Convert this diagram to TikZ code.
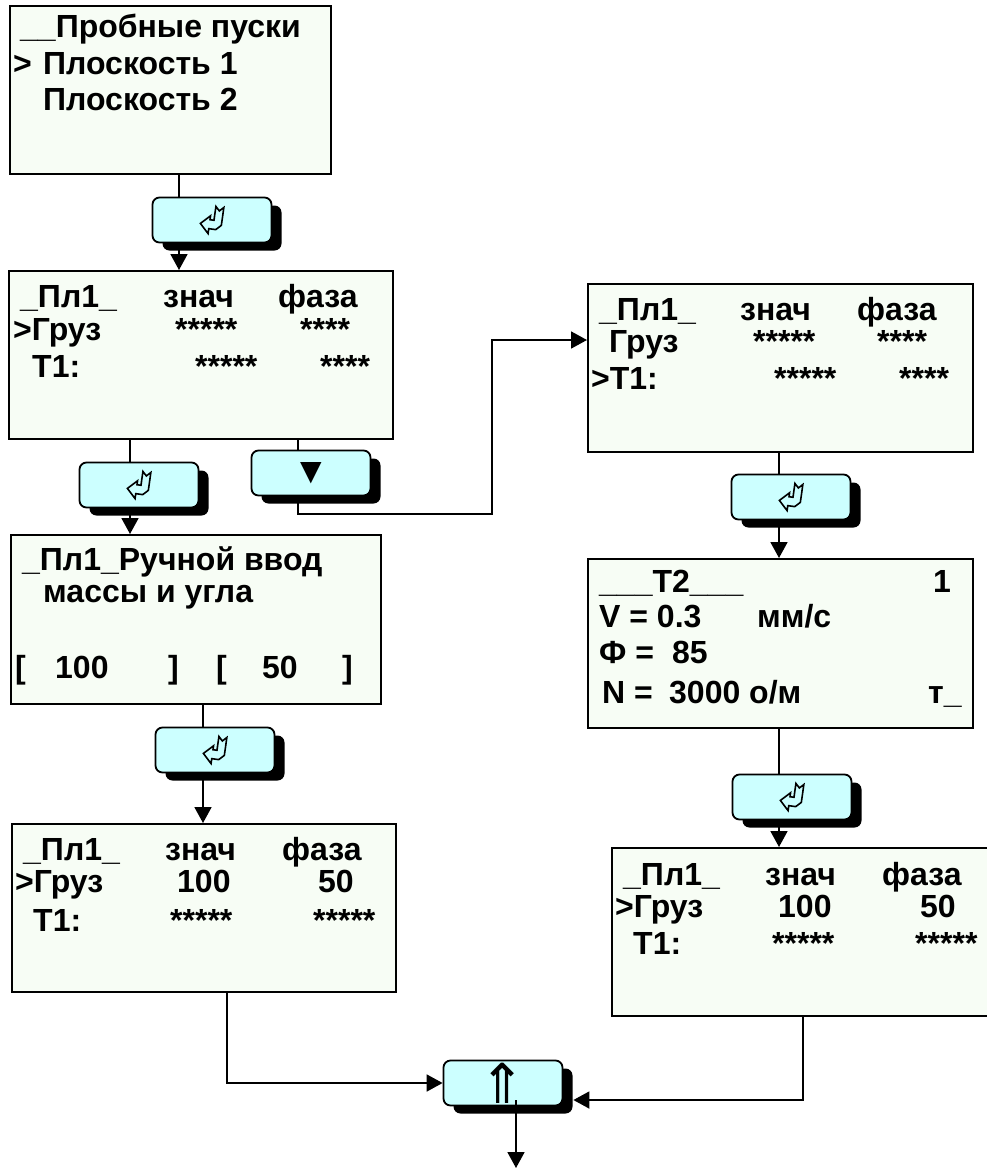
\documentclass[tikz,border=0pt]{standalone}
\usepackage{fontspec}
\setmainfont{Liberation Sans}
\newfontfamily\symfont{DejaVu Sans}
\usetikzlibrary{arrows.meta,shadows}

\definecolor{keybg}{RGB}{204,255,255}
\definecolor{screenbg}{RGB}{247,253,245}
\newcommand\scr{\fontsize{32}{38}\selectfont\bfseries}

\tikzset{
	screen/.style={draw, line width=2.2pt, fill=screenbg, anchor=north west, inner sep=0pt},
	key/.style={draw, line width=1.8pt, fill=keybg, rounded corners=7pt,
		minimum width=119pt, minimum height=45pt, inner sep=0pt,
		drop shadow={shadow xshift=10pt, shadow yshift=-8pt, fill=black, opacity=1}},
	txt/.style={anchor=base west, inner sep=0pt, font=\scr},
	conn/.style={line width=1.8pt},
	arr/.style={conn, -{Triangle[length=16pt,width=17pt]}},
	enterglyph/.pic={
		\draw[line width=1.6pt, fill=keybg, line join=miter, rotate=-8]
			(-11,5) -- (-2,-4) -- (-2,0) -- (2,0) -- (2,-14) -- (6,-10) -- (10,-14)
			-- (10,4) -- (5,9) -- (-2,9) -- (-2,14) -- cycle;
	}
}

\begin{document}
\begin{tikzpicture}[x=1pt,y=-1pt]
	\useasboundingbox (0,0) rectangle (987,1171);
	\clip (0,0) rectangle (987,1171);

	% screens
	\node[screen, minimum width=321pt, minimum height=168pt] (s1) at (9,5) {};
	\node[screen, minimum width=384pt, minimum height=168pt] (s2) at (8,270) {};
	\node[screen, minimum width=370pt, minimum height=169pt] (s3) at (10,534) {};
	\node[screen, minimum width=385pt, minimum height=168pt] (s4) at (587,283) {};
	\node[screen, minimum width=385pt, minimum height=169pt] (s5) at (587,558) {};
	\node[screen, minimum width=384pt, minimum height=168pt] (s6) at (11,823) {};
	\node[screen, minimum width=390pt, minimum height=168pt] (s7) at (611,847) {};

	% keys
	\node[key] (b1) at (212,220) {};
	\node[key] (b2) at (139,485) {};
	\node[key] (b3) at (311,473) {\symfont\fontsize{28}{28}\selectfont ▼};
	\node[key] (b6) at (791,497) {};
	\node[key] (b7) at (215,750) {};
	\node[key] (b5) at (792,797) {};
	\node[key] (b4) at (503,1083) {\symfont\scalebox{0.95}[0.95]{\fontsize{58}{58}\selectfont ⇑}};
	\pic at (b1) {enterglyph};
	\pic at (b2) {enterglyph};
	\pic at (b6) {enterglyph};
	\pic at (b7) {enterglyph};
	\pic at (b5) {enterglyph};

	% screen 1
	\node[txt] (a1) at (20,37) {\_\_Пробные пуски};
	\node[txt] (a2) at (13,74) {>};
	\node[txt] (a3) at (43,74) {Плоскость 1};
	\node[txt] (a4) at (43,110) {Плоскость 2};

	% screen 2
	\node[txt] (p1) at (20,307) {\_Пл1\_};
	\node[txt] (p2) at (163,307) {знач};
	\node[txt] (p3) at (278,307) {фаза};
	\node[txt] (p4) at (13,340) {>Груз};
	\node[txt] (p5) at (175,340) {*****};
	\node[txt] (p6) at (300,340) {****};
	\node[txt] (p7) at (32,377) {T1:};
	\node[txt] (p8) at (195,377) {*****};
	\node[txt] (p9) at (320,377) {****};

	% screen 3
	\node[txt] (m1) at (22,570) {\_Пл1\_Ручной ввод};
	\node[txt] (m2) at (43,602) {массы и угла};
	\node[txt] (m3) at (15,678) {[};
	\node[txt] (m4) at (55,678) {100};
	\node[txt] (m5) at (168,678) {]};
	\node[txt] (m6) at (216,678) {[};
	\node[txt] (m7) at (262,678) {50};
	\node[txt] (m8) at (342,678) {]};

	% screen 4
	\node[txt] (q1) at (599,320) {\_Пл1\_};
	\node[txt] (q2) at (740,320) {знач};
	\node[txt] (q3) at (857,320) {фаза};
	\node[txt] (q4) at (609,352) {Груз};
	\node[txt] (q5) at (753,352) {*****};
	\node[txt] (q6) at (877,352) {****};
	\node[txt] (q7) at (591,389) {>T1:};
	\node[txt] (q8) at (774,389) {*****};
	\node[txt] (q9) at (899,389) {****};

	% screen 5
	\node[txt] (v1) at (599,592) {\_\_\_T2\_\_\_};
	\node[txt] (v2) at (933,592) {1};
	\node[txt] (v3) at (599,627) {V = 0.3};
	\node[txt] (v4) at (757,627) {мм/с};
	\node[txt] (v5) at (599,663) {Ф =};
	\node[txt] (v6) at (672,663) {85};
	\node[txt] (v7) at (602,703) {N =};
	\node[txt] (v8) at (669,703) {3000 о/м};
	\node[txt] (v9) at (928,703) {т\_};

	% screen 6
	\node[txt] (r1) at (23,860) {\_Пл1\_};
	\node[txt] (r2) at (165,860) {знач};
	\node[txt] (r3) at (282,860) {фаза};
	\node[txt] (r4) at (15,892) {>Груз};
	\node[txt] (r5) at (177,892) {100};
	\node[txt] (r6) at (318,892) {50};
	\node[txt] (r7) at (33,931) {T1:};
	\node[txt] (r8) at (170,931) {*****};
	\node[txt] (r9) at (313,931) {*****};

	% screen 7
	\node[txt] (w1) at (623,885) {\_Пл1\_};
	\node[txt] (w2) at (765,885) {знач};
	\node[txt] (w3) at (882,885) {фаза};
	\node[txt] (w4) at (615,917) {>Груз};
	\node[txt] (w5) at (778,917) {100};
	\node[txt] (w6) at (920,917) {50};
	\node[txt] (w7) at (633,954) {T1:};
	\node[txt] (w8) at (772,954) {*****};
	\node[txt] (w9) at (915,954) {*****};

	% connector columns and bends
	\coordinate (c1) at (179,0);
	\coordinate (c2) at (130,0);
	\coordinate (c3) at (298,0);
	\coordinate (c4) at (0,340);
	\coordinate (c5) at (779,0);
	\coordinate (c6) at (203,0);
	\coordinate (c7) at (227,0);
	\coordinate (c8) at (803,0);
	\coordinate (t1) at (492,514);
	\coordinate (out) at (516,1168);

	\draw[conn] (s1.south -| c1) -- (b1.north -| c1);
	\draw[arr] (b1.south -| c1) -- (s2.north -| c1);
	\draw[conn] (s2.south -| c2) -- (b2.north -| c2);
	\draw[arr] (b2.south -| c2) -- (s3.north -| c2);
	\draw[conn] (s2.south -| c3) -- (b3.north -| c3);
	\draw[arr] (b3.south -| c3) |- (t1) |- (s4.west |- c4);
	\draw[conn] (s4.south -| c5) -- (b6.north -| c5);
	\draw[arr] (b6.south -| c5) -- (s5.north -| c5);
	\draw[conn] (s5.south -| c5) -- (b5.north -| c5);
	\draw[arr] (b5.south -| c5) -- (s7.north -| c5);
	\draw[conn] (s3.south -| c6) -- (b7.north -| c6);
	\draw[arr] (b7.south -| c6) -- (s6.north -| c6);
	\draw[arr] (s6.south -| c7) |- (b4.west);
	\draw[arr] (s7.south -| c8) |- ([shift={(10,17)}]b4.east);
	\draw[arr] (out |- b4.center) ++(0,17) -- (out);
\end{tikzpicture}
\end{document}
